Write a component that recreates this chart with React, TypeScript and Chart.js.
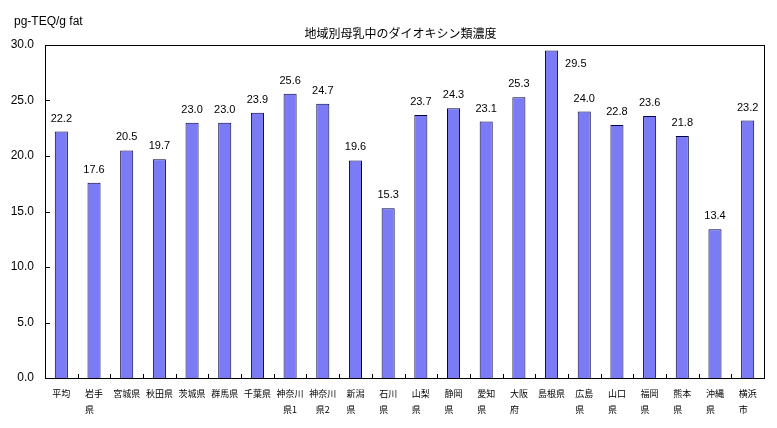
import React, { useEffect, useRef } from "react";
import { Chart, registerables } from "chart.js";

Chart.register(...registerables);

const TITLE = "地域別母乳中のダイオキシン類濃度";
const UNIT = "pg-TEQ/g fat";
const categories: (string | string[])[] = [
  "平均",
  ["岩手", "県　"],
  "宮城県",
  "秋田県",
  "茨城県",
  "群馬県",
  "千葉県",
  ["神奈川", "県1"],
  ["神奈川", "県2"],
  ["新潟", "県　"],
  ["石川", "県　"],
  ["山梨", "県　"],
  ["静岡", "県　"],
  ["愛知", "県　"],
  ["大阪", "府　"],
  "島根県",
  ["広島", "県　"],
  ["山口", "県　"],
  ["福岡", "県　"],
  ["熊本", "県　"],
  ["沖縄", "県　"],
  ["横浜", "市　"],
];
const values = [
  22.2, 17.6, 20.5, 19.7, 23.0, 23.0, 23.9, 25.6, 24.7, 19.6, 15.3, 23.7, 24.3,
  23.1, 25.3, 29.5, 24.0, 22.8, 23.6, 21.8, 13.4, 23.2,
];
const yMin = 0;
const yMax = 30;
const yStep = 5;

const framePlugin = {
  id: "frameAndLabels",
  afterDatasetsDraw(chart: any) {
    const { ctx, chartArea } = chart;
    const { left, right, top, bottom } = chartArea;
    ctx.save();
    ctx.strokeStyle = "#000";
    ctx.lineWidth = 1;
    ctx.strokeRect(Math.round(left) + 0.5, Math.round(top) + 0.5, Math.round(right - left), Math.round(bottom - top));
    const ys = chart.scales.y;
    ctx.beginPath();
    ys.ticks.forEach((t: any) => {
      const py = Math.round(ys.getPixelForValue(t.value)) + 0.5;
      ctx.moveTo(left, py);
      ctx.lineTo(left + 5, py);
    });
    const n = categories.length;
    const w = (right - left) / n;
    for (let i = 1; i < n; i++) {
      const px = Math.round(left + w * i) + 0.5;
      ctx.moveTo(px, bottom);
      ctx.lineTo(px, bottom - 4);
    }
    ctx.stroke();
    const meta = chart.getDatasetMeta(0);
    ctx.fillStyle = "#000";
    ctx.font = "11px 'Liberation Sans', Arial, sans-serif";
    ctx.textBaseline = "middle";
    meta.data.forEach((bar: any, i: number) => {
      const label = values[i].toFixed(1);
      const ly = bar.y - 13;
      if (ly < top + 12) {
        ctx.textAlign = "left";
        ctx.fillText(label, bar.x + bar.width / 2 + 7, bar.y + 13);
      } else {
        ctx.textAlign = "center";
        ctx.fillText(label, bar.x, ly);
      }
    });
    ctx.textAlign = "center";
    ctx.font = "12px 'Noto Sans CJK JP', sans-serif";
    ctx.fillText(TITLE, (left + right) / 2 - 4, 33);
    ctx.textAlign = "left";
    ctx.font = "12px 'Liberation Sans', Arial, sans-serif";
    ctx.fillText(UNIT, 14, 22);
    ctx.restore();
  },
};

export default function App() {
  const ref = useRef<HTMLCanvasElement>(null);
  useEffect(() => {
    if (!ref.current) return;
    const chart = new Chart(ref.current, {
      type: "bar",
      data: {
        labels: categories,
        datasets: [
          {
            data: values,
            backgroundColor: "#7b7bf5",
            borderColor: "#000040",
            borderWidth: 1,
            categoryPercentage: 1,
            barPercentage: 0.4,
          },
        ],
      },
      options: {
        animation: false,
        responsive: false,
        maintainAspectRatio: false,
        layout: { padding: { top: 45, right: 13, left: 0, bottom: 0 } },
        plugins: {
          legend: { display: false },
          title: { display: false },
          tooltip: { enabled: false },
        },
        scales: {
          x: {
            grid: { display: false },
            border: { display: false },
            ticks: {
              color: "#000",
              autoSkip: false,
              maxRotation: 0,
              minRotation: 0,
              padding: 0,
              font: { family: "'Noto Sans CJK JP', sans-serif", size: 9, lineHeight: 1.75 },
            },
            afterFit(scale: any) {
              scale.height = 50;
            },
          },
          y: {
            min: yMin,
            max: yMax,
            grid: { display: false },
            border: { display: false },
            ticks: {
              stepSize: yStep,
              color: "#000",
              padding: 3,
              font: { family: "'Liberation Sans', Arial, sans-serif", size: 12 },
              callback: (v: any) => Number(v).toFixed(1),
            },
            afterFit(scale: any) {
              scale.width = 45;
            },
          },
        },
      },
      plugins: [framePlugin],
    });
    return () => chart.destroy();
  }, []);
  return (
    <div style={{ position: "absolute", left: 0, top: 0, width: 777, height: 428, background: "#fff" }}>
      <canvas ref={ref} width={777} height={428} style={{ display: "block" }} />
    </div>
  );
}
